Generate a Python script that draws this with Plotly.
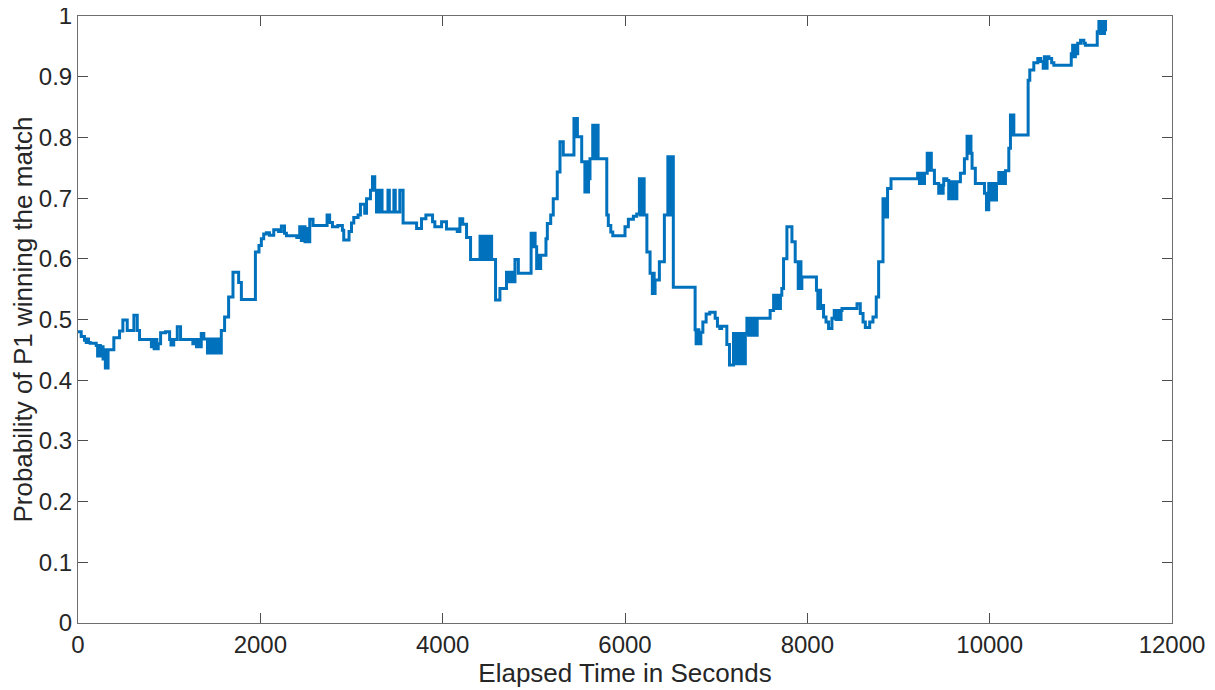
import plotly.graph_objects as go

# Elapsed time (s) and probability of P1 winning, as step points
time_s = [
    0, 35, 71, 90, 100, 115, 134, 200, 215, 230, 245, 260, 275, 290, 300, 330,
    393, 456, 492, 540, 613, 650, 675, 805, 820, 835, 850, 865, 880, 906, 960,
    1005, 1020, 1050, 1089, 1125, 1260, 1280, 1300, 1320, 1335, 1352, 1380,
    1420, 1440, 1460, 1480, 1500, 1520, 1540, 1572, 1608, 1652, 1700, 1762, 1792,
    1946, 1985, 2011, 2037, 2066, 2100, 2147, 2200, 2231, 2265, 2286, 2400,
    2432, 2450, 2470, 2490, 2510, 2525, 2542, 2578, 2732, 2760, 2791, 2850,
    2900, 2915, 2973, 3000, 3025, 3072, 3098, 3145, 3165, 3208, 3230, 3255,
    3274, 3290, 3305, 3320, 3335, 3400, 3415, 3465, 3480, 3530, 3545,
    3566, 3714, 3768, 3816, 3889, 3914, 3988, 4042, 4160, 4189,
    4220, 4262, 4306, 4410, 4425, 4440, 4470, 4485, 4500, 4515, 4537, 4580,
    4628, 4700, 4720, 4735, 4750, 4770, 4785, 4793, 4830, 4970, 4985, 5000,
    5014, 5031, 5045, 5060, 5075, 5133, 5148, 5185, 5213, 5257, 5287, 5323,
    5440, 5455, 5465, 5478, 5525, 5560, 5575, 5585, 5600, 5616, 5646, 5660,
    5672, 5685, 5695, 5705, 5800, 5817, 5844, 5866, 6000, 6037, 6092, 6129,
    6158, 6170, 6180, 6190, 6200, 6210, 6240, 6275, 6300, 6310, 6320, 6330,
    6377, 6432, 6470, 6490, 6505, 6530, 6769, 6780, 6795, 6810,
    6832, 6854, 6890, 6930, 6989, 7014, 7040, 7060, 7117, 7146, 7190, 7205,
    7220, 7235, 7250, 7270, 7285, 7300, 7320, 7337, 7355, 7370, 7390, 7410,
    7430, 7450, 7592, 7630, 7650, 7670, 7690, 7705, 7720, 7739, 7776, 7831,
    7867, 7900, 7915, 7930, 7940, 8100, 8115, 8130, 8145, 8160, 8178, 8205,
    8233, 8270, 8295, 8315, 8335, 8355, 8370, 8380, 8545, 8581, 8611, 8636,
    8684, 8720, 8756, 8782, 8830, 8845, 8860, 8870, 8880, 8918, 9210, 9230,
    9250, 9270, 9285, 9315, 9330, 9345, 9360, 9394, 9441, 9460, 9475, 9490,
    9496, 9530, 9551, 9570, 9590, 9610, 9625, 9640, 9679, 9723, 9752, 9765,
    9780, 9795, 9807, 9843, 9943, 9965, 9990, 10005, 10020, 10035, 10050,
    10065, 10075, 10100, 10120, 10140, 10160, 10173, 10210, 10228, 10240,
    10252, 10265, 10422, 10440, 10484, 10528, 10560, 10587, 10600, 10615,
    10630, 10650, 10680, 10704, 10895, 10910, 10925, 10940, 10955, 10966,
    10997, 11033, 11050, 11180, 11198, 11215, 11230, 11245, 11260, 11271,
]
prob_p1 = [
    0.480, 0.472, 0.466, 0.462, 0.468, 0.462, 0.461, 0.457, 0.440, 0.457, 0.440, 0.455, 0.435, 0.450, 0.420, 0.450,
    0.470, 0.481, 0.499, 0.482, 0.507, 0.482, 0.467, 0.455, 0.467, 0.452, 0.467, 0.452, 0.460, 0.478, 0.480,
    0.467, 0.458, 0.467, 0.488, 0.467, 0.460, 0.467, 0.455, 0.467, 0.455, 0.477, 0.468,
    0.445, 0.468, 0.445, 0.468, 0.445, 0.468, 0.445, 0.482, 0.504, 0.537, 0.578, 0.561, 0.533,
    0.611, 0.622, 0.633, 0.641, 0.643, 0.639, 0.648, 0.645, 0.654, 0.642, 0.638, 0.635,
    0.653, 0.630, 0.653, 0.628, 0.650, 0.628, 0.665, 0.655, 0.672, 0.660, 0.653, 0.655,
    0.647, 0.631, 0.645, 0.659, 0.668, 0.672, 0.690, 0.675, 0.699, 0.713, 0.735, 0.713,
    0.677, 0.713, 0.677, 0.713, 0.677, 0.713, 0.677, 0.713, 0.677, 0.713, 0.713,
    0.659, 0.650, 0.666, 0.672, 0.661, 0.653, 0.661, 0.649, 0.645, 0.666,
    0.657, 0.635, 0.599, 0.637, 0.599, 0.637, 0.599, 0.637, 0.599, 0.637, 0.599, 0.532,
    0.551, 0.578, 0.562, 0.578, 0.562, 0.578, 0.562, 0.599, 0.576, 0.642, 0.620, 0.642,
    0.620, 0.584, 0.606, 0.584, 0.606, 0.633, 0.658, 0.672, 0.699, 0.743, 0.793, 0.771,
    0.831, 0.801, 0.831, 0.801, 0.760, 0.710, 0.760, 0.710, 0.732, 0.765, 0.820, 0.765,
    0.820, 0.765, 0.820, 0.765, 0.672, 0.655, 0.644, 0.638, 0.653, 0.665, 0.670, 0.674,
    0.732, 0.672, 0.732, 0.672, 0.732, 0.672, 0.611, 0.576, 0.543, 0.576, 0.543, 0.565,
    0.595, 0.672, 0.768, 0.672, 0.768, 0.553, 0.483, 0.460, 0.483, 0.460,
    0.479, 0.496, 0.509, 0.512, 0.502, 0.489, 0.485, 0.489, 0.459, 0.425, 0.477, 0.427,
    0.477, 0.427, 0.477, 0.427, 0.477, 0.427, 0.477, 0.502, 0.474, 0.502, 0.474, 0.502,
    0.474, 0.502, 0.515, 0.540, 0.518, 0.540, 0.518, 0.540, 0.551, 0.600, 0.653, 0.628,
    0.595, 0.551, 0.595, 0.551, 0.570, 0.548, 0.518, 0.548, 0.518, 0.523, 0.504, 0.496,
    0.485, 0.502, 0.515, 0.500, 0.515, 0.500, 0.515, 0.518, 0.526, 0.510, 0.496, 0.487,
    0.496, 0.504, 0.537, 0.595, 0.699, 0.669, 0.699, 0.669, 0.716, 0.732, 0.741, 0.724,
    0.741, 0.724, 0.741, 0.774, 0.746, 0.774, 0.746, 0.724, 0.708, 0.721, 0.708, 0.721,
    0.732, 0.729, 0.699, 0.727, 0.699, 0.727, 0.699, 0.727, 0.741, 0.765, 0.802, 0.774,
    0.802, 0.774, 0.749, 0.724, 0.708, 0.681, 0.724, 0.697, 0.724, 0.697, 0.724,
    0.697, 0.724, 0.742, 0.724, 0.742, 0.724, 0.745, 0.782, 0.837, 0.804,
    0.837, 0.804, 0.894, 0.911, 0.923, 0.930, 0.925, 0.914, 0.933, 0.914,
    0.933, 0.930, 0.923, 0.919, 0.938, 0.952, 0.933, 0.952, 0.938, 0.955,
    0.960, 0.955, 0.952, 0.974, 0.991, 0.971, 0.991, 0.971, 0.991, 0.975,
]

x_ticks = [0, 2000, 4000, 6000, 8000, 10000, 12000]
y_ticks = [0, 0.1, 0.2, 0.3, 0.4, 0.5, 0.6, 0.7, 0.8, 0.9, 1]
y_tick_text = ["0", "0.1", "0.2", "0.3", "0.4", "0.5", "0.6", "0.7", "0.8", "0.9", "1"]

FONT = "Liberation Sans, Arial, sans-serif"

fig = go.Figure()
fig.add_trace(go.Scatter(
    x=time_s, y=prob_p1, mode="lines",
    line=dict(color="#0072BD", width=3, shape="hv"),
    showlegend=False,
))

axis_common = dict(
    showgrid=False, zeroline=False, showline=True, linecolor="#6e6e6e", linewidth=1,
    mirror="ticks", ticks="inside", ticklen=10, tickcolor="#4d4d4d", tickwidth=1,
    automargin=False, ticklabeloverflow="allow",
    tickfont=dict(family=FONT, size=24, color="#262626"),
)

# the page body adds an 8px offset, so the figure is sized to fit the window
fig.update_layout(
    width=1207, height=682,
    margin=dict(l=70, r=43, t=8, b=67),
    paper_bgcolor="white", plot_bgcolor="white",
    xaxis=dict(range=[0, 12000], tickvals=x_ticks, ticktext=[str(v) for v in x_ticks],
               title=dict(text="Elapsed Time in Seconds", standoff=2,
                          font=dict(family=FONT, size=26, color="#262626")),
               **axis_common),
    yaxis=dict(range=[0, 1], tickvals=y_ticks, ticktext=y_tick_text,
               title=dict(text="Probability of P1 winning the match", standoff=6,
                          font=dict(family=FONT, size=26, color="#262626")),
               **axis_common),
)

fig.write_html("out.html")
